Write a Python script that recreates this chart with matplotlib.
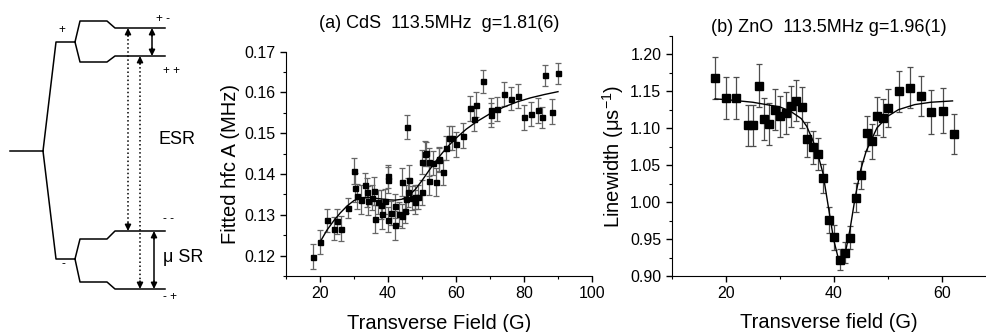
import numpy as np
import matplotlib
matplotlib.use('Agg')
import matplotlib.pyplot as plt
from matplotlib.ticker import MultipleLocator

plt.rcParams['font.family'] = ['Liberation Sans', 'DejaVu Sans']
plt.rcParams['mathtext.fontset'] = 'custom'
plt.rcParams['mathtext.rm'] = 'Liberation Sans'
plt.rcParams['mathtext.it'] = 'Liberation Sans:italic'

# (a) CdS: fitted hyperfine constant vs transverse field
cds_field = [18.0, 20.1, 22.1, 24.2, 25.0, 26.2, 28.2, 30.0, 30.3, 31.0, 32.1, 33.2,
             33.9, 34.2, 35.2, 36.0, 36.1, 37.2, 37.9, 38.1, 39.2, 40.0, 40.1, 40.1,
             41.0, 42.0, 42.1, 43.3, 44.0, 44.1, 45.0, 45.2, 45.7, 46.0, 46.2, 47.1,
             48.0, 48.0, 48.9, 49.9, 50.0, 51.0, 51.2, 52.0, 52.2, 53.2, 54.1, 55.0,
             55.1, 56.1, 57.0, 57.9, 58.9, 60.1, 62.1, 64.0, 65.2, 66.0, 68.0, 70.2,
             70.4, 72.1, 74.1, 76.1, 78.1, 80.0, 82.0, 84.0, 85.2, 86.2, 88.2, 90.1]
cds_hfc = [0.1197, 0.1233, 0.1287, 0.1266, 0.1284, 0.1266, 0.1316, 0.1407, 0.1367, 0.1345,
           0.1337, 0.1372, 0.1355, 0.1335, 0.1342, 0.1358, 0.1290, 0.1331, 0.1325, 0.1301,
           0.1333, 0.1394, 0.1386, 0.1288, 0.1305, 0.1274, 0.1321, 0.1302, 0.1297, 0.1380,
           0.1310, 0.1339, 0.1515, 0.1355, 0.1386, 0.1341, 0.1331, 0.1344, 0.1344, 0.1355,
           0.1429, 0.1450, 0.1451, 0.1429, 0.1384, 0.1427, 0.1380, 0.1434, 0.1437, 0.1404,
           0.1464, 0.1489, 0.1489, 0.1473, 0.1494, 0.1561, 0.1536, 0.1570, 0.1627, 0.1545,
           0.1556, 0.1559, 0.1596, 0.1585, 0.1592, 0.1539, 0.1547, 0.1556, 0.1539, 0.1642,
           0.1553, 0.1647]
cds_err = [0.0031, 0.0030, 0.0028, 0.0028, 0.0030, 0.0030, 0.0025, 0.0032, 0.0035, 0.0030,
           0.0035, 0.0030, 0.0035, 0.0035, 0.0030, 0.0035, 0.0035, 0.0030, 0.0035, 0.0035,
           0.0030, 0.0028, 0.0032, 0.0030, 0.0030, 0.0035, 0.0030, 0.0030, 0.0030, 0.0035,
           0.0030, 0.0035, 0.0029, 0.0035, 0.0035, 0.0030, 0.0030, 0.0030, 0.0030, 0.0030,
           0.0030, 0.0030, 0.0028, 0.0035, 0.0035, 0.0030, 0.0035, 0.0030, 0.0030, 0.0030,
           0.0030, 0.0030, 0.0030, 0.0030, 0.0030, 0.0030, 0.0030, 0.0030, 0.0028, 0.0030,
           0.0030, 0.0030, 0.0030, 0.0028, 0.0030, 0.0030, 0.0030, 0.0030, 0.0025, 0.0026,
           0.0030, 0.0025]
cds_fit_field = [20, 22, 24, 26, 28, 30, 32, 34, 36, 38, 40, 42, 44, 46, 48, 50, 52, 54, 56,
                 58, 60, 63, 66, 70, 74, 78, 82, 86, 90]
cds_fit_hfc = [0.1233, 0.1262, 0.1285, 0.1305, 0.1322, 0.1335, 0.1342, 0.1343, 0.1341,
               0.1339, 0.1337, 0.1336, 0.1338, 0.1346, 0.1362, 0.1384, 0.1408, 0.1431,
               0.1452, 0.1471, 0.1488, 0.1510, 0.1528, 0.1548, 0.1564, 0.1577, 0.1587,
               0.1595, 0.1602]

# (b) ZnO: linewidth vs transverse field
zno_field = [18.0, 20.1, 21.9, 24.2, 25.1, 26.1, 27.1, 28.1, 29.1, 30.1, 31.1, 32.1, 33.1,
             34.1, 35.1, 36.1, 37.1, 38.1, 39.1, 40.1, 41.1, 42.1, 43.1, 44.1, 45.1, 46.1,
             47.1, 48.1, 49.1, 50.1, 52.1, 54.1, 56.1, 58.1, 60.2, 62.2]
zno_width = [1.1679, 1.1412, 1.1412, 1.1041, 1.1041, 1.1579, 1.1127, 1.1059, 1.1253, 1.1163,
             1.1208, 1.1299, 1.1376, 1.1285, 1.0851, 1.0742, 1.0652, 1.0321, 0.9760, 0.9525,
             0.9222, 0.9317, 0.9520, 1.0063, 1.0362, 1.0932, 1.0824, 1.1163, 1.1140, 1.1271,
             1.1502, 1.1552, 1.1439, 1.1217, 1.1240, 1.0919]
zno_err = [0.028, 0.028, 0.028, 0.028, 0.028, 0.029, 0.028, 0.029, 0.028, 0.028, 0.028,
           0.028, 0.028, 0.028, 0.024, 0.022, 0.022, 0.020, 0.018, 0.017, 0.014, 0.014,
           0.016, 0.020, 0.019, 0.024, 0.024, 0.026, 0.026, 0.026, 0.028, 0.028, 0.027,
           0.030, 0.030, 0.027]
zno_fit_field = [18, 20, 25, 30, 32, 34, 35, 36, 37, 38, 39, 40, 41, 41.5, 42, 43, 44, 45, 46,
                 47, 48, 50, 52, 55, 58, 62]
zno_fit_width = [1.1398, 1.1389, 1.1353, 1.1290, 1.1231, 1.1131, 1.1027, 1.0860, 1.0665,
                 1.0394, 0.9940, 0.9489, 0.9195, 0.9160, 0.9260, 0.9624, 1.0077, 1.0439,
                 1.0688, 1.0846, 1.1005, 1.1163, 1.1253, 1.1321, 1.1353, 1.1371]

# level scheme (pixel coordinates of the schematic)
scheme_lines = [
    ([10, 43], [151, 151]),
    ([43, 56, 75], [151, 42, 42]),
    ([43, 56, 75], [151, 259, 259]),
    ([75, 80, 107, 115, 165], [42, 21, 21, 28, 28]),
    ([75, 80, 107, 115, 165], [42, 62, 62, 56, 56]),
    ([75, 80, 107, 115, 165], [259, 239, 239, 231, 231]),
    ([75, 80, 107, 115, 165], [259, 282, 282, 289, 289]),
]
scheme_arrows = [(152, 28, 56, '-'), (128, 28, 231, ':'), (140, 56, 289, ':'), (154, 231, 289, '-')]
scheme_labels = [(58, 30, '+'), (61, 264, '-'), (156, 19, '+ -'), (163, 71, '+ +'),
                 (163, 219, '- -'), (163, 297, '- +')]

fig = plt.figure(figsize=(9.86, 3.32), dpi=100)

# schematic
axs = fig.add_axes([0, 0, 210 / 986, 1])
axs.set_xlim(0, 210)
axs.set_ylim(332, 0)
axs.axis('off')
for xs, ys in scheme_lines:
    axs.plot(xs, ys, color='black', lw=1.1)
for x, y0, y1, ls in scheme_arrows:
    axs.plot([x, x], [y0 + 3, y1 - 3], color='black', lw=1.1, linestyle=ls)
    axs.annotate('', xy=(x, y0), xytext=(x, y0 + 8),
                 arrowprops=dict(arrowstyle='-|>', color='black', lw=1.1, mutation_scale=9,
                                 shrinkA=0, shrinkB=0))
    axs.annotate('', xy=(x, y1), xytext=(x, y1 - 8),
                 arrowprops=dict(arrowstyle='-|>', color='black', lw=1.1, mutation_scale=9,
                                 shrinkA=0, shrinkB=0))
for x, y, s in scheme_labels:
    axs.text(x, y, s, fontsize=8.5, ha='left', va='center')
axs.text(158, 140, 'ESR', fontsize=13, ha='left', va='center')
axs.text(163, 257, 'μ SR', fontsize=13, ha='left', va='center')

tick_kw = dict(direction='out', labelsize=11.5, width=1, length=4)
minor_kw = dict(direction='out', width=0.8, length=2.5)

# (a) CdS
ax1 = fig.add_axes([286 / 986, 56 / 332, 306 / 986, 224.3 / 332])
ax1.errorbar(cds_field, cds_hfc, yerr=cds_err, fmt='s', color='black', ms=3.6,
             ecolor='0.4', elinewidth=0.9, capsize=2, capthick=0.9)
ax1.plot(cds_fit_field, cds_fit_hfc, color='black', lw=1)
ax1.set_xlim(10, 100)
ax1.set_ylim(0.115, 0.17)
ax1.xaxis.set_major_locator(MultipleLocator(20))
ax1.xaxis.set_minor_locator(MultipleLocator(10))
ax1.yaxis.set_major_locator(MultipleLocator(0.01))
ax1.yaxis.set_minor_locator(MultipleLocator(0.005))
ax1.tick_params(which='major', **tick_kw)
ax1.tick_params(which='minor', **minor_kw)
ax1.set_xlabel('Transverse Field (G)', fontsize=14.5, labelpad=9)
ax1.set_ylabel('Fitted hfc A (MHz)', fontsize=14.5, labelpad=3)
ax1.set_title('(a) CdS  113.5MHz  g=1.81(6)', fontsize=13, pad=17)

# (b) ZnO
ax2 = fig.add_axes([671.7 / 986, 56 / 332, 314.3 / 986, 240 / 332])
ax2.errorbar(zno_field, zno_width, yerr=zno_err, fmt='s', color='black', ms=5.5,
             ecolor='0.3', elinewidth=0.9, capsize=2, capthick=0.9)
ax2.plot(zno_fit_field, zno_fit_width, color='black', lw=1)
ax2.set_xlim(10, 68.2)
ax2.set_ylim(0.9, 1.225)
ax2.xaxis.set_major_locator(MultipleLocator(20))
ax2.xaxis.set_minor_locator(MultipleLocator(10))
ax2.yaxis.set_major_locator(MultipleLocator(0.05))
ax2.yaxis.set_minor_locator(MultipleLocator(0.025))
ax2.yaxis.set_major_formatter(matplotlib.ticker.FormatStrFormatter('%.2f'))
ax2.tick_params(which='major', **tick_kw)
ax2.tick_params(which='minor', **minor_kw)
ax2.set_xlabel('Transverse field (G)', fontsize=14.5, labelpad=8)
ax2.set_ylabel('Linewidth (μs$^{-1}$)', fontsize=14.5, labelpad=3)
ax2.set_title('(b) ZnO  113.5MHz g=1.96(1)', fontsize=13, pad=2)

for ax in (ax1, ax2):
    ax.spines['top'].set_visible(False)
    ax.spines['right'].set_visible(False)
    ax.patch.set_alpha(0)

fig.savefig('out.png', dpi=100)
